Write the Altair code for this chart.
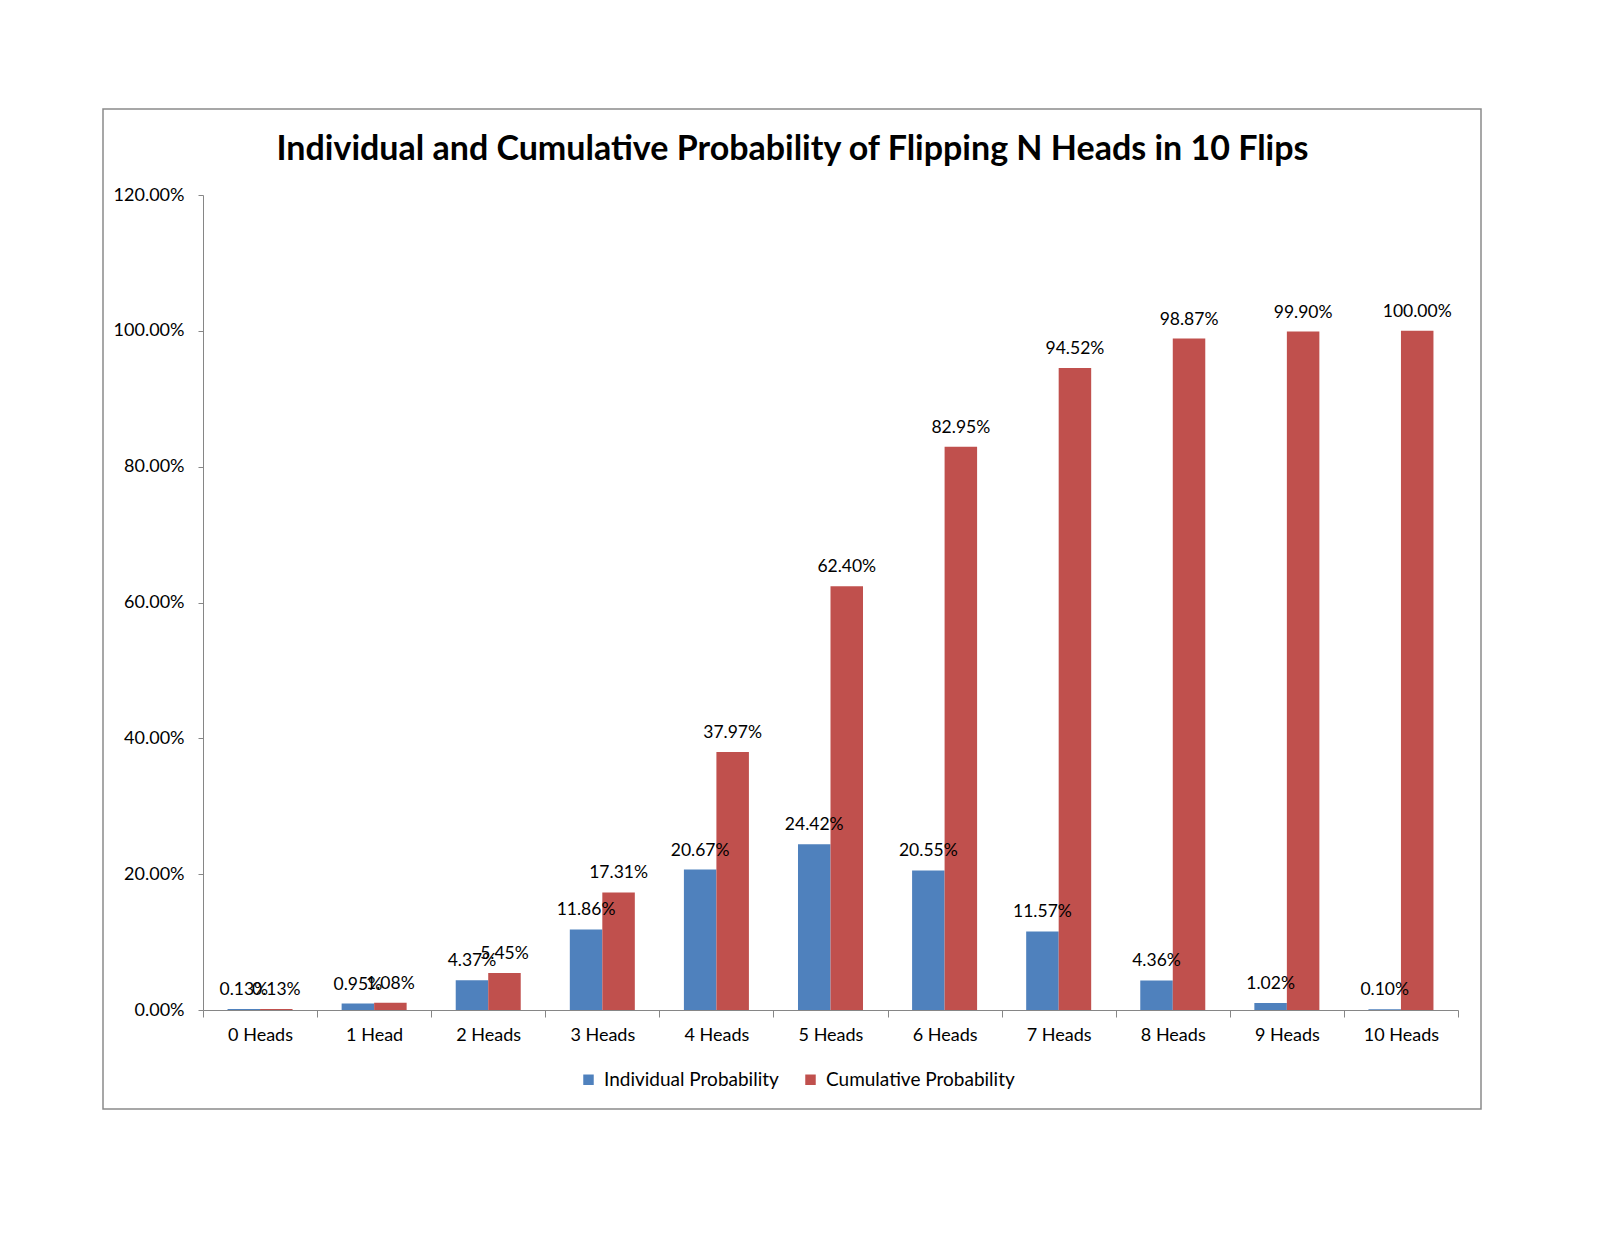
import altair as alt
import pandas as pd

categories = ["0 Heads", "1 Head", "2 Heads", "3 Heads", "4 Heads", "5 Heads",
              "6 Heads", "7 Heads", "8 Heads", "9 Heads", "10 Heads"]
individual = [0.0013, 0.0095, 0.0437, 0.1186, 0.2067, 0.2442, 0.2055, 0.1157, 0.0436, 0.0102, 0.0010]
cumulative = [0.0013, 0.0108, 0.0545, 0.1731, 0.3797, 0.6240, 0.8295, 0.9452, 0.9887, 0.9990, 1.0000]
series = ["Individual Probability", "Cumulative Probability"]
colors = ["#4F81BD", "#C0504D"]

rows = []
for i, c in enumerate(categories):
    rows.append({"cat": c, "series": series[0], "value": individual[i]})
    rows.append({"cat": c, "series": series[1], "value": cumulative[i]})
df = pd.DataFrame(rows)

FONT = "Lato"

frame = alt.Chart(pd.DataFrame({"a": [0]})).mark_rect(
    fillOpacity=0, stroke="#8a8a8a", strokeWidth=1.5, clip=False
).encode(
    x=alt.value(-100), x2=alt.value(1278), y=alt.value(-86), y2=alt.value(914)
)

xenc = alt.X("cat:N", sort=categories, title=None,
             scale=alt.Scale(paddingInner=0, paddingOuter=0),
             axis=alt.Axis(labelAngle=0, tickBand="extent", tickSize=7, labelPadding=9,
                           labelFontSize=18, labelFont=FONT, labelColor="#000000",
                           domainColor="#868686", tickColor="#868686", grid=False, zindex=1))
xoff = alt.XOffset("series:N", sort=series,
                   scale=alt.Scale(paddingInner=0, paddingOuter=0.755))
yenc = alt.Y("value:Q", title=None,
             scale=alt.Scale(domain=[0, 1.2], nice=False),
             axis=alt.Axis(values=[0, 0.2, 0.4, 0.6, 0.8, 1.0, 1.2], format=".2%",
                           tickSize=5, labelPadding=14, labelFontSize=18, labelFont=FONT,
                           labelColor="#000000", domainColor="#868686", tickColor="#868686",
                           grid=False, zindex=1))

bars = alt.Chart(df).mark_bar().encode(
    x=xenc, xOffset=xoff, y=yenc,
    color=alt.Color("series:N", sort=series,
                    scale=alt.Scale(domain=series, range=colors),
                    legend=alt.Legend(title=None, orient="none", direction="horizontal",
                                      legendX=376, legendY=875, symbolType="square",
                                      symbolSize=110, symbolStrokeWidth=0, labelFontSize=19,
                                      labelFont=FONT, labelColor="#000000", labelOffset=6,
                                      labelLimit=400, columnPadding=22))
)

labels = alt.Chart(df).mark_text(fontSize=17.5, font=FONT, color="#000000",
                                 baseline="middle", dy=-19).encode(
    x=alt.X("cat:N", sort=categories), xOffset=alt.XOffset("series:N", sort=series),
    y="value:Q", text=alt.Text("value:Q", format=".2%")
)

chart = alt.layer(frame, bars, labels).properties(
    width=1255, height=815,
    padding={"left": 195, "top": 187, "right": 120, "bottom": 120},
    autosize=alt.AutoSizeParams(type="none"),
    title=alt.TitleParams("Individual and Cumulative Probability of Flipping N Heads in 10 Flips",
                          fontSize=34, font=FONT, fontWeight="bold", color="#000000",
                          anchor="middle", frame="group", dx=-38, offset=-59)
).configure_view(stroke=None)

chart.save("out.html", embed_options={"renderer": "svg", "actions": False})
